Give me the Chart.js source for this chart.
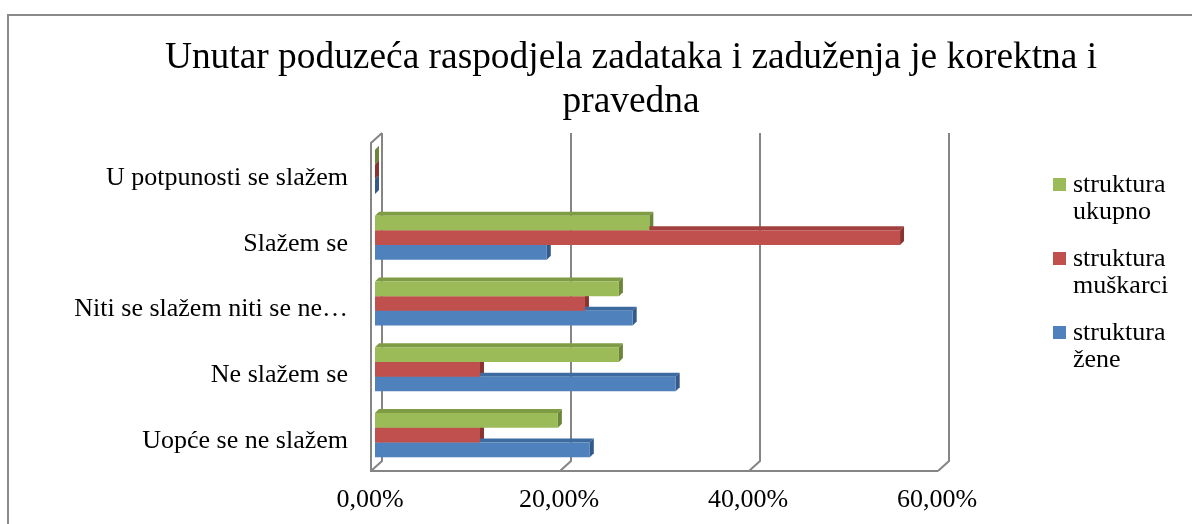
<!DOCTYPE html>
<html>
<head>
<meta charset="utf-8">
<script src="https://cdn.jsdelivr.net/npm/chart.js@4/dist/chart.umd.min.js"></script>
<style>
  body { margin: 0; background: #fff; overflow: hidden; }
  #wrap { position: relative; width: 1192px; height: 524px; overflow: hidden; }
  #frame { position: absolute; left: 7px; top: 14px; width: 1300px; height: 700px; border: 2px solid #8a8a8a; }
  #chart { position: absolute; left: 0; top: 0; }
  #title { position: absolute; left: 0; top: 34px; width: 1262px; text-align: center; font-family: "Liberation Serif", serif; font-size: 37.4px; line-height: 44px; color: #000; }
  .item { position: absolute; left: 1053px; font-family: "Liberation Serif", serif; font-size: 26px; line-height: 27px; color: #000; }
  .item .sq { position: absolute; left: 0; top: 8px; width: 13px; height: 13px; }
  .item .txt { position: absolute; left: 20px; top: 0; width: 115px; }
</style>
</head>
<body>
<div id="wrap">
  <div id="frame"></div>
  <canvas id="chart" width="1192" height="524"></canvas>
  <div id="title"></div>
</div>
<script>
const titleLines = ['Unutar poduzeća raspodjela zadataka i zaduženja je korektna i', 'pravedna'];
const categories = ['U potpunosti se slažem', 'Slažem se', 'Niti se slažem niti se ne…', 'Ne slažem se', 'Uopće se ne slažem'];
const seriesNames = ['struktura ukupno', 'struktura muškarci', 'struktura žene'];
const ukupno = [0, 29.03, 25.81, 25.81, 19.35];
const muskarci = [0, 55.56, 22.22, 11.11, 11.11];
const zene = [0, 18.18, 27.27, 31.82, 22.73];
const xTickValues = [0, 20, 40, 60];

const frontColors = ['#9BBB59', '#C0504D', '#4F81BD'];
const topColors = ['#7E9C44', '#A1413E', '#3E6B9F'];
const sideColors = ['#6B8639', '#8A3431', '#335A88'];
const FONT = '"Liberation Serif", serif';
const D = 4; // bar depth in px

// back wall, floor and the 3D faces of the bars, drawn before the bar fronts
const depthPlugin = {
  id: 'depth',
  beforeDatasetsDraw(chart) {
    const { ctx, chartArea: a, scales: { x } } = chart;
    ctx.save();
    ctx.strokeStyle = '#858585';
    ctx.lineWidth = 2;
    ctx.beginPath();
    xTickValues.forEach(v => {
      const px = x.getPixelForValue(v);
      ctx.moveTo(px + 7, a.top - 6);
      ctx.lineTo(px + 7, a.bottom - 7);
      ctx.lineTo(px - 4, a.bottom + 3);
    });
    const x0 = x.getPixelForValue(xTickValues[0]);
    const x1 = x.getPixelForValue(xTickValues[xTickValues.length - 1]);
    ctx.moveTo(x1 - 4, a.bottom + 3);
    ctx.lineTo(x0 - 4, a.bottom + 3);
    ctx.lineTo(x0 - 4, a.top + 4);
    ctx.lineTo(x0 + 7, a.top - 6);
    ctx.stroke();

    chart.data.datasets.forEach((ds, i) => {
      chart.getDatasetMeta(i).data.forEach(bar => {
        const { x: xe, y, base, height } = bar.getProps(['x', 'y', 'base', 'height'], true);
        const top = y - height / 2, bot = y + height / 2;
        ctx.fillStyle = topColors[i];
        ctx.beginPath();
        ctx.moveTo(base, top);
        ctx.lineTo(xe, top);
        ctx.lineTo(xe + D, top - D);
        ctx.lineTo(base + D, top - D);
        ctx.closePath();
        ctx.fill();
        ctx.fillStyle = sideColors[i];
        ctx.beginPath();
        ctx.moveTo(xe, top);
        ctx.lineTo(xe + D, top - D);
        ctx.lineTo(xe + D, bot - D);
        ctx.lineTo(xe, bot);
        ctx.closePath();
        ctx.fill();
      });
    });
    ctx.restore();
  }
};

new Chart(document.getElementById('chart'), {
  type: 'bar',
  data: {
    labels: categories,
    datasets: [
      { label: seriesNames[0], data: ukupno, backgroundColor: frontColors[0] },
      { label: seriesNames[1], data: muskarci, backgroundColor: frontColors[1] },
      { label: seriesNames[2], data: zene, backgroundColor: frontColors[2] },
    ],
  },
  options: {
    indexAxis: 'y',
    responsive: false,
    animation: false,
    devicePixelRatio: 1,
    categoryPercentage: 0.67,
    barPercentage: 1,
    layout: { padding: { top: 139, left: 10, right: 250, bottom: 0 } },
    plugins: {
      legend: { display: false },
      tooltip: { enabled: false },
    },
    scales: {
      x: {
        min: 0,
        max: 60,
        grid: { display: false, drawTicks: false },
        border: { display: false },
        afterBuildTicks: s => { s.ticks = xTickValues.map(v => ({ value: v })); },
        afterFit: s => { s.height = 56; },
        ticks: {
          color: '#000',
          padding: 17,
          labelOffset: -5,
          font: { family: FONT, size: 26 },
          callback: v => v.toFixed(2).replace('.', ',') + '%',
        },
      },
      y: {
        grid: { display: false, drawTicks: false },
        border: { display: false },
        afterFit: s => { s.width = 365; },
        ticks: {
          color: '#000',
          padding: 27,
          labelOffset: 6,
          font: { family: FONT, size: 26 },
        },
      },
    },
  },
  plugins: [depthPlugin],
});

// title and legend as page text
document.getElementById('title').innerHTML = titleLines.join('<br>');

const wrap = document.getElementById('wrap');
seriesNames.forEach((name, i) => {
  const item = document.createElement('div');
  item.className = 'item';
  item.style.top = (170 + i * 74) + 'px';
  item.innerHTML = '<div class="sq" style="background:' + frontColors[i] + '"></div><div class="txt">' + name + '</div>';
  wrap.appendChild(item);
});
</script>
</body>
</html>
